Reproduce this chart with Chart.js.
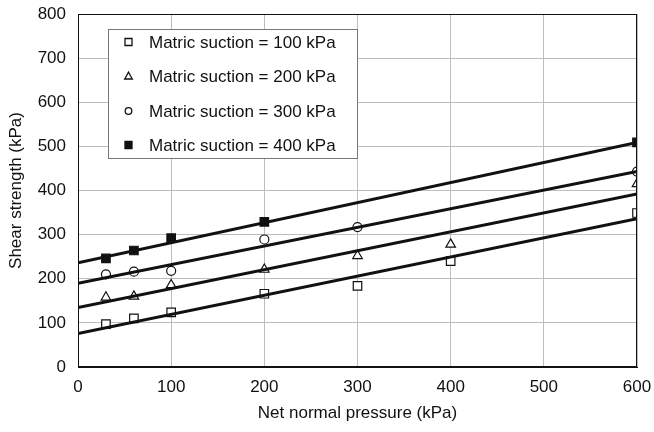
<!DOCTYPE html>
<html>
<head>
<meta charset="utf-8">
<script src="https://cdn.jsdelivr.net/npm/chart.js@4.4.1/dist/chart.umd.min.js"></script>
<style>
html,body{margin:0;padding:0;background:#fff;}
#wrap{width:654px;height:432px;position:relative;}
</style>
</head>
<body>
<div id="wrap"><canvas id="c" width="654" height="432"></canvas></div>
<script>
const pressure = [30, 60, 100, 200, 300, 400, 600];
const suction100 = [97, 110, 124, 166, 184, 240, 349];
const suction200 = [158, 160, 186, 221, 252, 278, 415];
const suction300 = [210, 216, 218, 289, 317, null, 443];
const suction400 = [246, 264, 292, 329, null, null, 509];
const lineX = [0, 600];
const fit100 = [76, 336];
const fit200 = [135, 392];
const fit300 = [190, 443];
const fit400 = [236, 509];
const legendLabels = ['Matric suction = 100 kPa','Matric suction = 200 kPa','Matric suction = 300 kPa','Matric suction = 400 kPa'];
const xTicks = [0,100,200,300,400,500,600];
const yTicks = [0,100,200,300,400,500,600,700,800];

const FONT = '"Liberation Sans", Arial, sans-serif';
const FS = 17;
function pts(xs, ys){ const o=[]; xs.forEach((x,i)=>{ if(ys[i]!==null) o.push({x:x,y:ys[i]}); }); return o; }

const styles = [
  {pointStyle:'rect', radius:6, fill:'#fff'},
  {pointStyle:'triangle', radius:5.5, fill:'#fff'},
  {pointStyle:'circle', radius:4.5, fill:'#fff'},
  {pointStyle:'rect', radius:6, fill:'#111'}
];
const series = [suction100, suction200, suction300, suction400];
const fits = [fit100, fit200, fit300, fit400];
const datasets = [];
fits.forEach((f,i)=>{
  datasets.push({type:'scatter', label:'fit'+i, data:pts(lineX,f), showLine:true, borderColor:'#111', borderWidth:3, pointRadius:0, fill:false});
});
series.forEach((s,i)=>{
  datasets.push({type:'scatter', label:legendLabels[i], data:pts(pressure,s), showLine:false,
    pointStyle:styles[i].pointStyle, pointRadius:styles[i].radius, pointBackgroundColor:styles[i].fill,
    pointBorderColor:'#111', pointBorderWidth:1.2});
});

const legendPlugin = {
  id:'boxLegend',
  afterDraw(chart){
    const ctx = chart.ctx;
    const x0=108, y0=29, w=249, h=129;
    ctx.save();
    ctx.fillStyle='#fff'; ctx.fillRect(x0,y0,w,h);
    ctx.strokeStyle='#777'; ctx.lineWidth=1; ctx.strokeRect(x0+0.5,y0+0.5,w,h);
    ctx.font=FS+'px '+FONT; ctx.textBaseline='middle'; ctx.textAlign='left';
    const rows=[42,76,111,145];
    rows.forEach((ry,i)=>{
      const st = styles[i];
      ctx.fillStyle = st.fill; ctx.strokeStyle='#111'; ctx.lineWidth=1.3;
      ctx.beginPath();
      if(st.pointStyle==='rect'){ ctx.rect(125,ry-3.5,7,7); }
      else if(st.pointStyle==='triangle'){ ctx.moveTo(128.5,ry-3.8); ctx.lineTo(132.3,ry+3); ctx.lineTo(124.7,ry+3); ctx.closePath(); }
      else { ctx.arc(128.5,ry,3.3,0,Math.PI*2); }
      ctx.fill(); ctx.stroke();
      ctx.fillStyle='#111';
      ctx.fillText(legendLabels[i], 149, ry+1);
    });
    ctx.restore();
  }
};

new Chart(document.getElementById('c'), {
  type:'scatter',
  data:{datasets:datasets},
  options:{
    responsive:false, animation:false,
    layout:{padding:{left:0,right:17,top:14,bottom:0}},
    plugins:{legend:{display:false}, tooltip:{enabled:false}},
    scales:{
      x:{type:'linear', min:0, max:600,
        afterBuildTicks(s){ s.ticks = xTicks.map(v=>({value:v})); },
        afterFit(s){ s.height = 65; s.paddingLeft = 0; s.paddingRight = 0; },
        grid:{color:'#bdbdbd', lineWidth:1, drawTicks:false},
        border:{color:'#111', width:1},
        ticks:{color:'#111', font:{family:FONT,size:FS}, padding:10, maxRotation:0},
        title:{display:true, text:'Net normal pressure (kPa)', color:'#111', font:{family:FONT,size:FS}, padding:{top:4,bottom:8}}
      },
      y:{type:'linear', min:0, max:800,
        afterBuildTicks(s){ s.ticks = yTicks.map(v=>({value:v})); },
        afterFit(s){ s.width = 78; s.paddingTop = 0; s.paddingBottom = 0; },
        grid:{color:'#bdbdbd', lineWidth:1, drawTicks:false},
        border:{color:'#111', width:1},
        ticks:{color:'#111', font:{family:FONT,size:FS}, padding:12},
        title:{display:true, text:'Shear strength (kPa)', color:'#111', font:{family:FONT,size:FS}, padding:{top:6,bottom:4}}
      }
    }
  },
  plugins:[legendPlugin, {
    id:'frame',
    afterDatasetsDraw(chart){
      const a=chart.chartArea, ctx=chart.ctx;
      ctx.save(); ctx.strokeStyle='#111'; ctx.lineWidth=1;
      ctx.strokeRect(a.left+0.5,a.top+0.5,a.right-a.left-1,a.bottom-a.top-1);
      ctx.restore();
    }
  }]
});
</script>
</body>
</html>
